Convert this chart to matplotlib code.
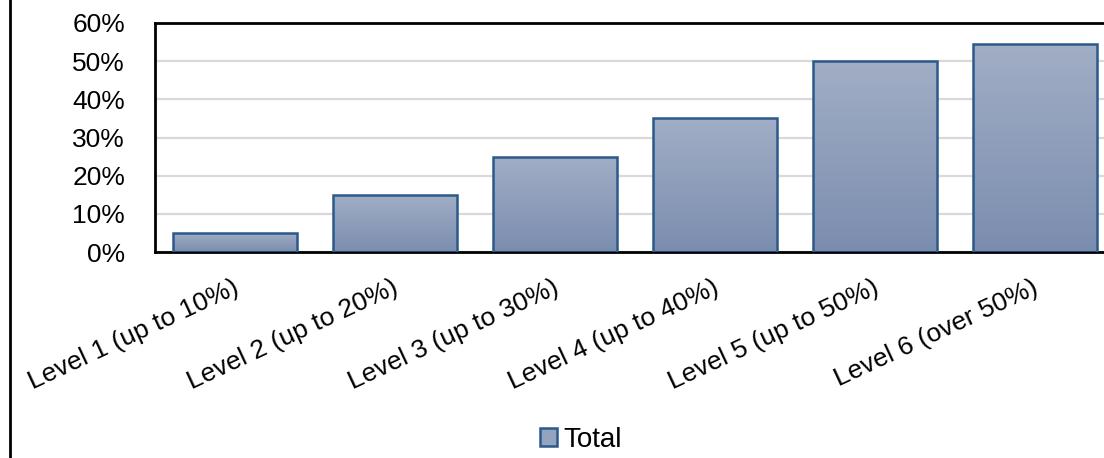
import matplotlib
matplotlib.use("Agg")
import matplotlib.pyplot as plt
import numpy as np
from matplotlib.colors import LinearSegmentedColormap
from matplotlib.patches import Patch
from matplotlib.lines import Line2D
from matplotlib.ticker import FuncFormatter
from matplotlib.transforms import ScaledTranslation

# Data
categories = ["Level 1 (up to 10%)", "Level 2 (up to 20%)", "Level 3 (up to 30%)",
              "Level 4 (up to 40%)", "Level 5 (up to 50%)", "Level 6 (over 50%)"]
values = [5, 15, 25, 35, 50, 54.5]
y_ticks = [0, 10, 20, 30, 40, 50, 60]
series_name = "Total"

plt.rcParams["font.family"] = ["Liberation Sans", "DejaVu Sans"]
FS = 19

fig = plt.figure(figsize=(11.04, 4.58), dpi=100)
W, H = 1104, 458
ax = fig.add_axes([155 / W, 1 - 252 / H, 960 / W, (252 - 23) / H])

top_col = "#A1AEC5"
bot_col = "#7B8DAF"
edge_col = "#2B5A8A"
cmap = LinearSegmentedColormap.from_list("barfill", [bot_col, top_col])

x = np.arange(len(categories))
bars = ax.bar(x, values, width=0.77, color="none", edgecolor=edge_col,
              linewidth=1.8, zorder=3)

# vertical gradient fill inside each bar
grad = np.linspace(0, 1, 256).reshape(-1, 1)
for b in bars:
    x0, y0 = b.get_x(), b.get_y()
    w, h = b.get_width(), b.get_height()
    im = ax.imshow(grad, cmap=cmap, origin="lower", aspect="auto",
                   extent=[x0, x0 + w, y0, y0 + h], zorder=2)
    im.set_clip_path(b)

ax.set_xlim(-0.5, len(categories) - 0.5)
ax.set_ylim(0, 60)
ax.set_yticks(y_ticks)
ax.yaxis.set_major_formatter(FuncFormatter(lambda v, p: f"{v:.0f}%"))
ax.grid(axis="y", color="#D9D9D9", linewidth=1.6, zorder=1)
ax.set_axisbelow(True)

for s in ["left", "bottom", "top", "right"]:
    ax.spines[s].set_color("black")
    ax.spines[s].set_linewidth(2)

ax.tick_params(axis="y", length=0, labelsize=FS, pad=21.5)
ax.tick_params(axis="x", length=0, labelsize=FS, pad=17)
ax.set_xticks(x)
ax.set_xticklabels(categories, rotation=25, ha="right", va="top",
                   rotation_mode="anchor", fontsize=FS)
offset = ScaledTranslation(-3 / 100, 0, fig.dpi_scale_trans)
for lbl in ax.get_xticklabels():
    lbl.set_transform(lbl.get_transform() + offset)

# Legend
handle = Patch(facecolor="#95A3BE", edgecolor=edge_col, linewidth=1.8)
fig.legend([handle], [series_name], loc="center", bbox_to_anchor=(581 / W, 1 - 440 / H),
           frameon=False, fontsize=20, handlelength=0.62, handleheight=0.62,
           handletextpad=0.25, borderpad=0)

# Chart frame line on the left
fig.add_artist(Line2D([9.5 / W, 9.5 / W], [0, 1], color="black", linewidth=2,
                      transform=fig.transFigure))

fig.savefig("out.png", dpi=100)
